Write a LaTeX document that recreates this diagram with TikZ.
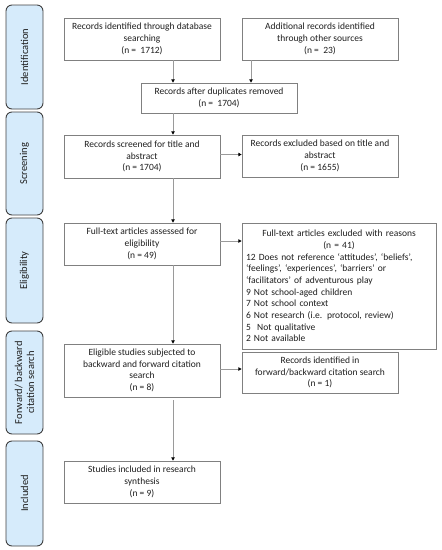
\documentclass[tikz,border=0pt]{standalone}
\usepackage{fontspec}
\setmainfont{Carlito}
\usetikzlibrary{arrows.meta,calc}
\definecolor{bandfill}{HTML}{D6EBFB}
\definecolor{bandline}{HTML}{404040}
\definecolor{boxline}{HTML}{808080}
\definecolor{arrline}{HTML}{9A9A9A}
\begin{document}
\begin{tikzpicture}[x=1pt,y=-1pt,
  box/.style={draw=boxline,line width=0.8pt,fill=white,rectangle,inner sep=2pt,
    align=center,font=\fontsize{9.5}{11.7}\selectfont,text=black!88},
  band/.style={draw=bandline,fill=bandfill,line width=0.9pt,rounded corners=6pt,rectangle},
  bandtext/.style={rotate=90,align=center,font=\fontsize{10.5}{12.2}\selectfont,text=black!88},
  arr/.style={draw=arrline,line width=0.7pt,-{Triangle[length=3.2pt,width=3.4pt,black]}}]
\useasboundingbox (0,0) rectangle (442,550);
% side bands
\node[band,minimum width=37pt,minimum height=104pt] (b1) at (24.5,57) {};
\node[band,minimum width=37pt,minimum height=103pt] (b2) at (24.5,163.5) {};
\node[band,minimum width=37pt,minimum height=105pt] (b3) at (24.5,270.5) {};
\node[band,minimum width=37pt,minimum height=103pt] (b4) at (24.5,382.5) {};
\node[band,minimum width=37pt,minimum height=105pt] (b5) at (24.5,493.5) {};
\node[bandtext] (t1) at (b1.center) {Identification};
\node[bandtext] (t2) at (b2.center) {Screening};
\node[bandtext] (t3) at (b3.center) {Eligibility};
\node[bandtext] (t4) at (b4.center) {Forward/ backward\\citation search};
\node[bandtext] (t5) at (b5.center) {Included};
% boxes
\node[box,minimum width=156pt,minimum height=42pt] (n1) at (142,39)
  {Records identified through database\\searching\\(n = \ 1712)};
\node[box,minimum width=156pt,minimum height=42pt] (n2) at (320,39)
  {Additional records identified\\through other sources\\(n = \ 23)};
\node[box,minimum width=156pt,minimum height=30pt] (n3) at (219,98)
  {Records after duplicates removed\\(n = \ 1704)};
\node[box,minimum width=156pt,minimum height=43pt] (n4) at (142,156.5)
  {Records screened for title and\\abstract\\(n = 1704)};
\node[box,minimum width=156pt,minimum height=42pt] (n5) at (320,156)
  {Records excluded based on title and\\abstract\\(n = 1655)};
\node[box,minimum width=156pt,minimum height=42pt] (n6) at (142,244)
  {Full-text articles assessed for\\eligibility\\(n = 49)};
\node[box,minimum width=194pt,minimum height=126pt,text width=186pt,align=left,inner sep=4pt] (n7) at (339,286)
  {{\centering Full-text articles excluded with reasons\\(n = 41)\par}
   12 Does not reference ‘attitudes’, ‘beliefs’,\\
   ‘feelings’, ‘experiences’, ‘barriers’ or\\
   ‘facilitators’ of adventurous play\\
   9 Not school-aged children\\
   7 Not school context\\
   6 Not research (i.e. protocol, review)\\
   5 \ Not qualitative\\
   2 Not available};
\node[box,minimum width=156pt,minimum height=53pt] (n8) at (142,370.5)
  {Eligible studies subjected to\\backward and forward citation\\search\\(n = 8)};
\node[box,minimum width=156pt,minimum height=41pt] (n9) at (320,372.5)
  {Records identified in\\forward/backward citation search\\(n = 1)};
\node[box,minimum width=156pt,minimum height=42pt] (n10) at (142,482)
  {Studies included in research\\synthesis\\(n = 9)};
% connectors
\coordinate (cx) at (173,0);
\coordinate (cy) at (251,0);
\draw[arr] (n1.south -| cx) -- (n3.north -| cx);
\draw[arr] (n2.south -| cy) -- (n3.north -| cy);
\draw[arr] (n3.south -| cx) -- (n4.north -| cx);
\draw[arr] ($(n4.east)+(0,-2)$) -- ($(n4.east -| n5.west)+(0,-2)$);
\draw[arr] (n4.south -| cx) -- (n6.north -| cx);
\draw[arr] ($(n6.east)+(0,-3)$) -- ($(n6.east -| n7.west)+(0,-3)$);
\draw[arr] (n6.south -| cx) -- (n8.north -| cx);
\draw[arr] ($(n8.east)+(0,-1.5)$) -- ($(n8.east -| n9.west)+(0,-1.5)$);
\draw[arr,shorten <=3pt] (n8.south -| cx) -- (n10.north -| cx);
\end{tikzpicture}
\end{document}
